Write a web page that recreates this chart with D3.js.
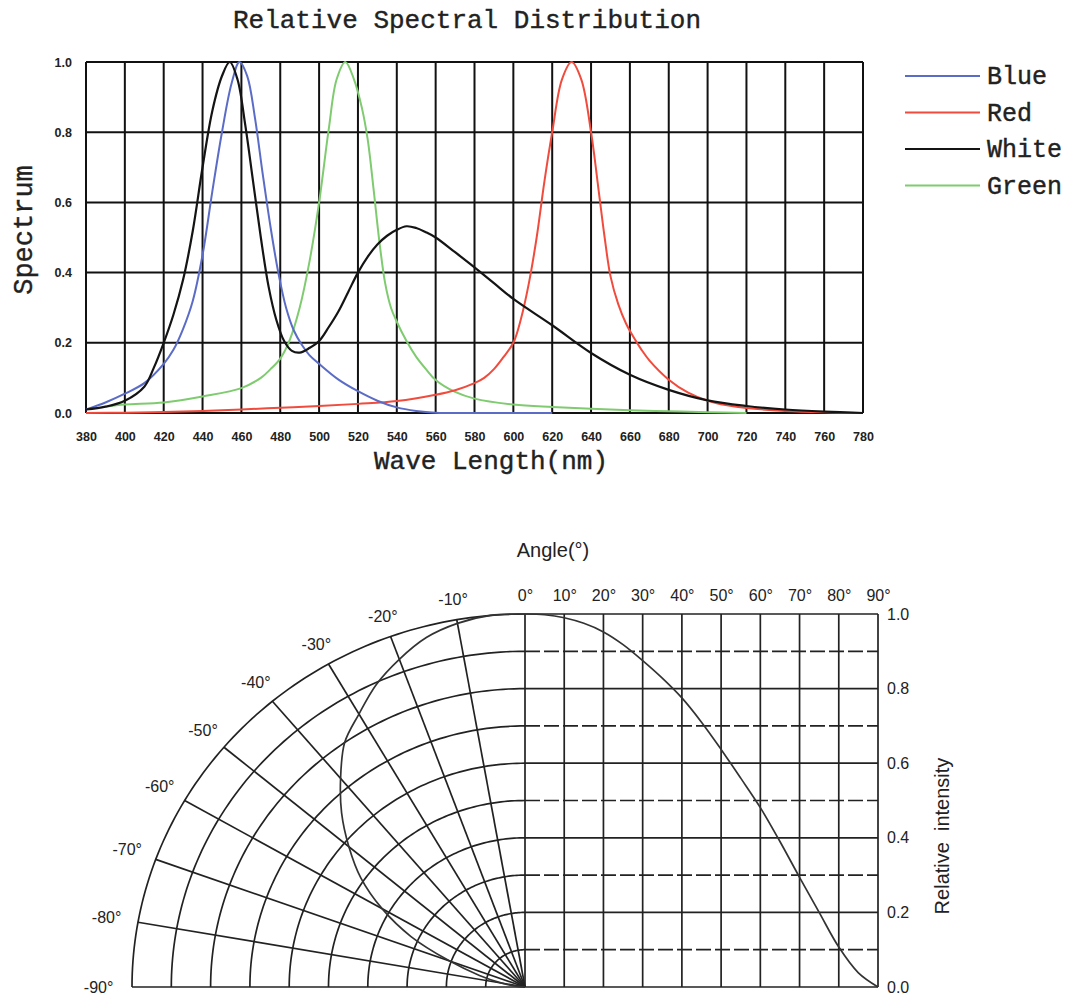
<!DOCTYPE html>
<html>
<head>
<meta charset="utf-8">
<script src="https://cdn.jsdelivr.net/npm/d3@7"></script>
<style>
  html, body { margin: 0; padding: 0; background: #fff; }
  svg { display: block; }
</style>
</head>
<body>
<div id="chart"></div>
<script>
// ---------- relative spectral distribution: [wavelength nm, relative value] ----------
const blueData = [[380,0.01],[390,0.03],[400,0.055],[410,0.085],[420,0.14],[425,0.18],[430,0.24],[435,0.32],
  [440,0.45],[445,0.63],[450,0.8],[455,0.94],[459,1.0],[463,0.96],[467,0.84],[471,0.68],[475,0.53],[479,0.4],
  [483,0.3],[487,0.235],[491,0.195],[495,0.165],[500,0.14],[510,0.095],[520,0.062],[530,0.035],[540,0.016],
  [550,0.006],[560,0.001],[580,0],[620,0]];

const redData = [[380,0],[400,0.001],[420,0.003],[440,0.006],[460,0.01],[480,0.015],[500,0.02],[520,0.026],
  [540,0.034],[560,0.052],[570,0.065],[580,0.085],[585,0.1],[590,0.125],[595,0.16],[600,0.2],[604,0.27],
  [608,0.37],[612,0.5],[616,0.66],[620,0.8],[625,0.95],[630,1.0],[635,0.95],[640,0.8],[644,0.63],[647,0.5],
  [650,0.39],[654,0.31],[658,0.255],[662,0.215],[666,0.18],[670,0.15],[680,0.095],[690,0.058],[700,0.035],
  [710,0.022],[720,0.014],[740,0.006],[760,0.002],[780,0]];

const whiteData = [[380,0.01],[390,0.018],[400,0.035],[410,0.075],[415,0.13],[420,0.2],[425,0.28],[430,0.38],
  [435,0.52],[440,0.7],[445,0.86],[450,0.96],[454,1.0],[458,0.95],[462,0.82],[466,0.66],[470,0.5],[474,0.36],
  [478,0.265],[482,0.205],[486,0.177],[490,0.172],[495,0.185],[500,0.205],[505,0.245],[510,0.29],[515,0.345],
  [520,0.4],[525,0.445],[530,0.48],[535,0.505],[540,0.522],[545,0.532],[550,0.527],[555,0.515],[560,0.5],
  [570,0.458],[580,0.415],[590,0.37],[600,0.325],[620,0.25],[640,0.171],[660,0.109],[680,0.066],[700,0.036],
  [720,0.02],[740,0.01],[760,0.004],[780,0]];

const greenData = [[390,0.018],[400,0.024],[420,0.03],[440,0.047],[460,0.071],[470,0.1],[475,0.125],[480,0.155],
  [485,0.21],[490,0.3],[495,0.43],[500,0.6],[505,0.81],[509,0.95],[513.5,1.0],[518,0.95],[522,0.87],[525,0.78],
  [528,0.64],[531,0.49],[534,0.37],[537,0.3],[540,0.26],[545,0.205],[550,0.16],[555,0.125],[560,0.094],
  [570,0.06],[580,0.041],[600,0.024],[620,0.017],[640,0.012],[660,0.008],[680,0.005],[700,0.002],[720,0]];

const wavelengthTicks = d3.range(380, 781, 20);
const spectrumTicks = [0, 0.2, 0.4, 0.6, 0.8, 1.0];
const legendNames = ["Blue", "Red", "White", "Green"];

// ---------- radiation pattern ----------
const angleTicks = [0, 10, 20, 30, 40, 50, 60, 70, 80, 90];
const sideAngles = [-10, -20, -30, -40, -50, -60, -70, -80, -90];
const ringValues = [0.1, 0.2, 0.3, 0.4, 0.5, 0.6, 0.7, 0.8, 0.9, 1.0];
const intensityTicks = [0, 0.2, 0.4, 0.6, 0.8, 1.0];
// polar curve on the left: [angle deg, relative intensity]
const polarData = [[0,1.0],[5,1.0],[10,0.99],[15,0.97],[20,0.935],[25,0.895],[30,0.845],[35,0.8],[40,0.73],
  [45,0.66],[50,0.585],[55,0.51],[60,0.42],[65,0.32],[70,0.205],[75,0.12],[80,0.06],[85,0.02],[90,0]];
// cartesian curve on the right: [angle deg, relative intensity]
const intensityData = [[0,1.0],[5,0.998],[10,0.99],[15,0.975],[20,0.952],[25,0.918],[30,0.875],[35,0.828],
  [40,0.775],[45,0.71],[50,0.637],[55,0.56],[60,0.481],[65,0.39],[70,0.294],[75,0.2],[80,0.107],[85,0.038],[90,0]];

const width = 1070, height = 995;
const colors = { Blue: "#5b6cc6", Red: "#f04b3c", White: "#141414", Green: "#7fcb6f" };
const seriesData = { Blue: blueData, Red: redData, White: whiteData, Green: greenData };

const svg = d3.select("#chart").append("svg")
  .attr("width", width)
  .attr("height", height);

svg.append("rect").attr("width", width).attr("height", height).attr("fill", "#fff");

// ===== top chart =====
const x = d3.scaleLinear().domain([380, 780]).range([86, 863]);
const y = d3.scaleLinear().domain([0, 1]).range([413, 62]);
const mono = "'Liberation Mono', 'DejaVu Sans Mono', monospace";

const spec = svg.append("g");

// grid
const grid = spec.append("g").attr("stroke", "#111").attr("stroke-width", 2);
grid.selectAll("line.v").data(wavelengthTicks).join("line")
  .attr("class", "v")
  .attr("x1", d => x(d)).attr("x2", d => x(d))
  .attr("y1", y(0)).attr("y2", y(1));
grid.selectAll("line.h").data(spectrumTicks).join("line")
  .attr("class", "h")
  .attr("x1", x(380)).attr("x2", x(780))
  .attr("y1", d => y(d)).attr("y2", d => y(d));

// axes (labels only)
const xAxis = spec.append("g")
  .attr("transform", `translate(0,${y(0)})`)
  .call(d3.axisBottom(x).tickValues(wavelengthTicks).tickSize(0).tickPadding(19));
const yAxis = spec.append("g")
  .attr("transform", `translate(${x(380)},0)`)
  .call(d3.axisLeft(y).tickValues(spectrumTicks).tickFormat(d3.format(".1f")).tickSize(0).tickPadding(14));
[xAxis, yAxis].forEach(g => {
  g.select(".domain").remove();
  g.selectAll("text")
    .attr("font-family", "'Liberation Sans', Arial, sans-serif")
    .attr("font-weight", "bold")
    .attr("font-size", 12.5)
    .attr("fill", "#222");
});

// curves
const line = d3.line().x(d => x(d[0])).y(d => y(d[1])).curve(d3.curveCatmullRom.alpha(0.5));
["Green", "Red", "Blue", "White"].forEach(name => {
  spec.append("path")
    .datum(seriesData[name])
    .attr("fill", "none")
    .attr("stroke", colors[name])
    .attr("stroke-width", name === "White" ? 2.2 : 2)
    .attr("d", line);
});

// titles
const titleStyle = t => t.attr("font-family", mono).attr("fill", "#222")
  .attr("stroke", "#222").attr("stroke-width", 0.4);
spec.append("text")
  .attr("x", 467).attr("y", 28)
  .attr("text-anchor", "middle")
  .attr("font-size", 26)
  .call(titleStyle)
  .text("Relative Spectral Distribution");
spec.append("text")
  .attr("x", 491).attr("y", 469)
  .attr("text-anchor", "middle")
  .attr("font-size", 26)
  .call(titleStyle)
  .text("Wave Length(nm)");
spec.append("text")
  .attr("transform", "translate(32,230) rotate(-90)")
  .attr("text-anchor", "middle")
  .attr("font-size", 27)
  .call(titleStyle)
  .text("Spectrum");

// legend
const legend = spec.selectAll("g.legend").data(legendNames).join("g")
  .attr("class", "legend")
  .attr("transform", (d, i) => `translate(905,${76 + i * 36.5})`);
legend.append("line")
  .attr("x1", 0).attr("x2", 75)
  .attr("stroke", d => colors[d]).attr("stroke-width", 2);
legend.append("text")
  .attr("x", 82).attr("y", 8)
  .attr("font-size", 25)
  .call(titleStyle)
  .text(d => d);

// ===== bottom chart =====
const xa = d3.scaleLinear().domain([0, 90]).range([525, 878]);
const yi = d3.scaleLinear().domain([0, 1]).range([987, 614]);
const rx = d3.scaleLinear().domain([0, 1]).range([0, 393]);
const ry = d3.scaleLinear().domain([0, 1]).range([0, 373]);
const cx = xa(0), cy = yi(0);
const rad = a => Math.abs(a) * Math.PI / 180;
const polar = (a, r) => [cx - rx(r) * Math.sin(rad(a)), cy - ry(r) * Math.cos(rad(a))];
const sans = "'Liberation Sans', Arial, sans-serif";

const bot = svg.append("g").attr("stroke", "#222").attr("stroke-width", 1.7).attr("fill", "none");

// polar rings
const arcLine = d3.line();
bot.selectAll("path.ring").data(ringValues).join("path")
  .attr("class", "ring")
  .attr("d", r => arcLine(d3.range(0, 90.5, 1).map(a => polar(a, r))));
// radial spokes
bot.selectAll("line.spoke").data(sideAngles.filter(a => a !== -90)).join("line")
  .attr("class", "spoke")
  .attr("x1", cx).attr("y1", cy)
  .attr("x2", a => polar(a, 1)[0]).attr("y2", a => polar(a, 1)[1]);
// baseline
bot.append("line")
  .attr("x1", polar(-90, 1)[0]).attr("x2", xa(90))
  .attr("y1", cy).attr("y2", cy);

// right cartesian grid
bot.selectAll("line.av").data(angleTicks).join("line")
  .attr("class", "av")
  .attr("x1", d => xa(d)).attr("x2", d => xa(d))
  .attr("y1", yi(0)).attr("y2", yi(1));
bot.selectAll("line.ih").data(ringValues).join("line")
  .attr("class", "ih")
  .attr("x1", xa(0)).attr("x2", xa(90))
  .attr("y1", d => yi(d)).attr("y2", d => yi(d))
  .attr("stroke-dasharray", d => (Math.round(d * 10) % 2 === 1) ? "15,4" : null);

// curves
bot.append("path")
  .datum(polarData)
  .attr("stroke", "#333").attr("stroke-width", 1.7)
  .attr("d", d3.line().x(d => polar(d[0], d[1])[0]).y(d => polar(d[0], d[1])[1]).curve(d3.curveCatmullRom.alpha(0.5)));
bot.append("path")
  .datum(intensityData)
  .attr("stroke", "#333").attr("stroke-width", 1.7)
  .attr("d", d3.line().x(d => xa(d[0])).y(d => yi(d[1])).curve(d3.curveCatmullRom.alpha(0.5)));

// labels
const aAxis = svg.append("g")
  .attr("transform", `translate(0,${yi(1)})`)
  .call(d3.axisTop(xa).tickValues(angleTicks).tickFormat(d => d + "°").tickSize(0).tickPadding(13));
const iAxis = svg.append("g")
  .attr("transform", `translate(${xa(90)},0)`)
  .call(d3.axisRight(yi).tickValues(intensityTicks).tickFormat(d3.format(".1f")).tickSize(0).tickPadding(9));
[aAxis, iAxis].forEach(g => {
  g.select(".domain").remove();
  g.selectAll("text").attr("font-family", sans).attr("font-size", 16).attr("fill", "#222");
});

svg.selectAll("text.side").data(sideAngles).join("text")
  .attr("class", "side")
  .attr("x", a => polar(a, 1.05 + 0.035 * Math.abs(a) / 90)[0])
  .attr("y", a => polar(a, 1.05 + 0.035 * Math.abs(a) / 90)[1])
  .attr("dy", "0.35em")
  .attr("text-anchor", "middle")
  .attr("font-family", sans).attr("font-size", 16).attr("fill", "#222")
  .text(a => a + "°");

svg.append("text")
  .attr("x", 553).attr("y", 557)
  .attr("text-anchor", "middle")
  .attr("font-family", sans).attr("font-size", 20).attr("fill", "#222")
  .text("Angle(°)");
svg.append("text")
  .attr("transform", "translate(949,836) rotate(-90)")
  .attr("text-anchor", "middle")
  .attr("font-family", sans).attr("font-size", 20).attr("fill", "#222")
  .style("white-space", "pre")
  .text("Relative  intensity");
</script>
</body>
</html>
